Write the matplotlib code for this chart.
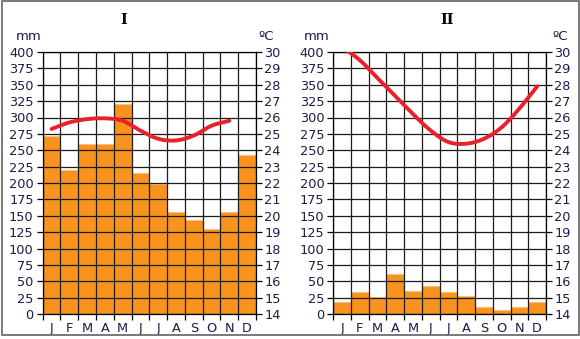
import matplotlib
matplotlib.use("Agg")
import matplotlib.pyplot as plt
from matplotlib.patches import Rectangle
from matplotlib.ticker import FixedLocator, NullFormatter
import numpy as np

months = ["J", "F", "M", "A", "M", "J", "J", "A", "S", "O", "N", "D"]

# Station I
precip_1 = [271, 220, 259, 259, 320, 215, 198, 156, 143, 130, 155, 242]
temp_1 = [25.3, 25.7, 25.9, 25.95, 25.8, 25.2, 24.7, 24.6, 24.9, 25.5, 25.8]

# Station II
precip_2 = [18, 33, 26, 61, 35, 42, 33, 27, 11, 6, 11, 18]
temp_2 = [30.3, 29.5, 28.4, 27.3, 26.2, 25.2, 24.5, 24.4, 24.7, 25.4, 26.55, 27.9]

titles = ["I", "II"]
mm_ticks = list(range(0, 401, 25))
c_ticks = list(range(14, 31))

BAR = "#f7931e"
BAR_EDGE = "#fbbf7c"
LINE = "#e8212b"
TXT = "#1f1a48"
GRID = "#1c1c1c"


def smooth(xs, ys, n=20):
    """Catmull-Rom curve through the given points (drawing only)."""
    xs = np.asarray(xs, float)
    ys = np.asarray(ys, float)
    px = np.concatenate([[2 * xs[0] - xs[1]], xs, [2 * xs[-1] - xs[-2]]])
    py = np.concatenate([[2 * ys[0] - ys[1]], ys, [2 * ys[-1] - ys[-2]]])
    out_x, out_y = [], []
    t = np.linspace(0, 1, n, endpoint=False)
    for i in range(1, len(px) - 2):
        for arr, out in ((px, out_x), (py, out_y)):
            p0, p1, p2, p3 = arr[i - 1], arr[i], arr[i + 1], arr[i + 2]
            out.extend(0.5 * ((2 * p1) + (-p0 + p2) * t
                              + (2 * p0 - 5 * p1 + 4 * p2 - p3) * t ** 2
                              + (-p0 + 3 * p1 - 3 * p2 + p3) * t ** 3))
    out_x.append(xs[-1])
    out_y.append(ys[-1])
    return np.array(out_x), np.array(out_y)


W, H = 580, 339
fig = plt.figure(figsize=(W / 100, H / 100), dpi=100)
fig.patch.set_facecolor("white")

# outer frame
fig.add_artist(Rectangle((1.5 / W, 4 / H), (W - 3) / W, (H - 5.5) / H,
                         transform=fig.transFigure, fill=False,
                         edgecolor="#6e6e6e", lw=1.3))

panels = [
    dict(x0=42.7, x1=256.0, title_x=124, mm_x=29, c_x=266,
         precip=precip_1, temp=temp_1, title=titles[0]),
    dict(x0=333.3, x1=546.0, title_x=447, mm_x=317, c_x=560,
         precip=precip_2, temp=temp_2, title=titles[1]),
]
y_top, y_bot = 52.0, 314.0

for p in panels:
    ax = fig.add_axes([p["x0"] / W, (H - y_bot) / H,
                       (p["x1"] - p["x0"]) / W, (y_bot - y_top) / H])
    x = np.arange(len(months))
    ax.bar(x, p["precip"], width=1.0, color=BAR, edgecolor=BAR_EDGE,
           linewidth=0.8, zorder=1)
    ax.set_xlim(-0.5, 11.5)
    ax.set_ylim(0, 400)

    ax.xaxis.set_major_locator(FixedLocator(np.arange(-0.5, 12, 1.0)))
    ax.xaxis.set_major_formatter(NullFormatter())
    ax.xaxis.set_minor_locator(FixedLocator(x))
    ax.set_xticklabels(months, minor=True)
    ax.tick_params(axis="x", which="major", length=4, width=0.9,
                   color="black", direction="out")
    ax.tick_params(axis="x", which="minor", length=0, pad=5.5,
                   labelsize=9.3, labelcolor=TXT)

    ax.set_yticks(mm_ticks)
    ax.tick_params(axis="y", which="major", length=4, width=0.9,
                   pad=2.5, labelsize=9.3, labelcolor=TXT)

    ax.set_axisbelow(False)
    ax.grid(True, which="major", color=GRID, linewidth=0.9, zorder=2)
    for s in ax.spines.values():
        s.set_linewidth(0.9)
        s.set_color("black")
        s.set_zorder(3)

    ax2 = ax.twinx()
    ax2.set_ylim(14, 30)
    ax2.set_yticks(c_ticks)
    ax2.tick_params(axis="y", length=4, width=0.9, pad=2,
                    labelsize=9.3, labelcolor=TXT)
    for s in ax2.spines.values():
        s.set_visible(False)
    sx, sy = smooth(np.arange(len(p["temp"])), p["temp"])
    ax2.plot(sx, sy, color=LINE, lw=2.8, solid_joinstyle="round",
             solid_capstyle="round", zorder=5)

    fig.text(p["title_x"] / W, 1 - 20 / H, p["title"], ha="center",
             va="center", fontsize=10.5, fontweight="bold",
             family="DejaVu Serif", color="black")
    fig.text(p["mm_x"] / W, 1 - 37 / H, "mm", ha="center", va="center",
             fontsize=9.5, color=TXT)
    fig.text(p["c_x"] / W, 1 - 36 / H, "ºC", ha="center", va="center",
             fontsize=9.5, color=TXT)

fig.savefig("out.png", dpi=100)
